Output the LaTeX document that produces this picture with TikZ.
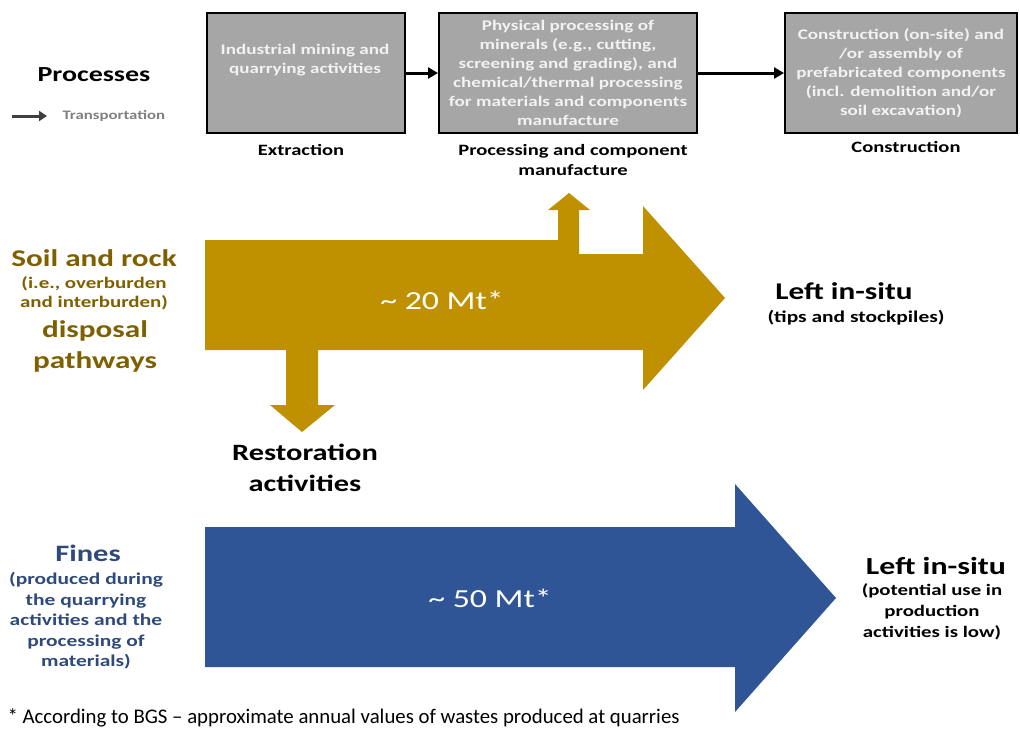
\documentclass[tikz,border=0pt]{standalone}
\usepackage{fontspec}
\setmainfont{Carlito}
\newfontfamily\wide[FakeStretch=1.3]{Carlito}
\usetikzlibrary{arrows.meta, positioning}
\definecolor{gold}{HTML}{BF9000}
\definecolor{golddunkel}{HTML}{7F6000}
\definecolor{blau}{HTML}{2F5597}
\definecolor{blaudunkel}{HTML}{2E4A7D}
\definecolor{boxgrau}{HTML}{A6A6A6}
\definecolor{boxtext}{HTML}{F2F2F2}
\newcommand{\fs}[2]{\wide\fontsize{#1}{#2}\selectfont}

\begin{document}
\begin{tikzpicture}[x=1pt, y=-1pt,
        procbox/.style={draw, line width=2pt, fill=boxgrau, anchor=north west,
                     inner sep=0pt},
        boxtxt/.style={text=boxtext, font=\fs{14.7}{19}\bfseries, align=center},
        caption/.style={font=\fs{15.8}{20}\bfseries, align=center},
        arr/.style={-{Triangle[length=10pt,width=11pt]}, line width=3pt},
        big/.style={font=\fs{24}{31}\bfseries, align=center},
        small/.style={font=\fs{16.5}{19.5}\bfseries, align=center},
        flow/.style={text=white, font=\fs{26}{30}}
      ]
      \useasboundingbox (0,0) rectangle (1020,729);

      % Prozesse oben
      \node[font=\fs{21.5}{24}\bfseries] (proc) at (94,75) {Processes};
      \coordinate (t0) at (12,116);
      \node[font=\fs{12.9}{16}\bfseries, text=black!50, anchor=west] (trans) at (59,116) {Transportation};
      \draw[-{Triangle[length=8pt,width=10pt]}, line width=3pt, black!75, shorten >=12pt] (t0) -- (trans.west);

      \node[procbox, minimum width=198pt, minimum height=120pt] (b1) at (206,12) {};
      \node[procbox, minimum width=258pt, minimum height=120pt] (b2) at (438,12) {};
      \node[procbox, minimum width=232pt, minimum height=120pt] (b3) at (784,12) {};

      \node[boxtxt] (t1) at (305,60) {Industrial mining and\\quarrying activities};
      \node[boxtxt] (t2) at (b2.center) {Physical processing of\\minerals (e.g., cutting,\\screening and grading), and\\chemical/thermal processing\\for materials and components\\manufacture};
      \node[boxtxt] (t3) at (b3.center) {Construction (on-site) and\\/or assembly of\\prefabricated components\\(incl. demolition and/or\\soil excavation)};

      \draw[arr] (b1) -- (b2);
      \draw[arr] (b2) -- (b3);

      \node[caption] (c1) at (301,150) {Extraction};
      \node[caption] (c2) at (573,160) {Processing and component\\manufacture};
      \node[caption] (c3) at (906,147) {Construction};

      % Boden und Gestein
      \fill[gold] (205,240) -- (558,240) -- (558,210) -- (548,210) -- (569,193)
        -- (590,210) -- (579,210) -- (579,254) -- (643,254) -- (643,206)
        -- (725,298) -- (643,390) -- (643,350) -- (318,350) -- (318,405)
        -- (335,405) -- (302,432) -- (270,405) -- (286,405) -- (286,350)
        -- (205,350) -- cycle;
      \node[flow] (m20) at (442,300) {\textasciitilde\ 20 Mt*};

      \node[big, text=golddunkel] (soil) at (94,258) {Soil and rock};
      \node[small, font=\fs{16.1}{19.5}\bfseries, text=golddunkel] (ie) at (94,293) {(i.e., overburden\\and interburden)};
      \node[big, text=golddunkel] (disp) at (95,346) {disposal\\pathways};

      \node[big] (left1) at (844,291) {Left in-situ};
      \node[small] (tips) at (856,318) {(tips and stockpiles)};
      \node[big, font=\fs{23.4}{31}\bfseries] (rest) at (305,468) {Restoration\\activities};

      % Feinanteile
      \fill[blau] (205,527) -- (735,527) -- (735,484) -- (836,598) -- (735,712)
        -- (735,667) -- (205,667) -- cycle;
      \node[flow] (m50) at (490,598) {\textasciitilde\ 50 Mt*};

      \node[big, font=\fs{23.5}{28}\bfseries, text=blaudunkel] (fines) at (88,553) {Fines};
      \node[small, font=\fs{16.5}{20.5}\bfseries, text=blaudunkel] (fsub) at (86,621)
        {(produced during\\the quarrying\\activities and the\\processing of\\materials)};

      \node[big, font=\fs{24.5}{28}\bfseries] (left2) at (936,566) {Left in-situ};
      \node[small, font=\fs{16}{21}\bfseries] (psub) at (932,612)
        {(potential use in\\production\\activities is low)};

      \node[font=\fontsize{20.8}{22}\selectfont, anchor=west] (foot) at (4,718)
        {* According to BGS -- approximate annual values of wastes produced at quarries};
    \end{tikzpicture}
\end{document}
